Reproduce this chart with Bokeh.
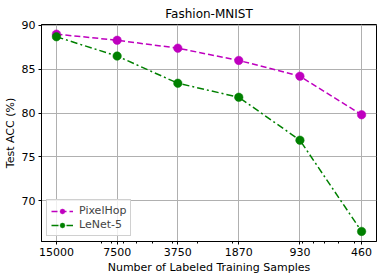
from bokeh.plotting import figure
from bokeh.models import FixedTicker, Range1d, Legend, LegendItem, CustomJSTickFormatter, Title
from bokeh.embed import file_html
from bokeh.resources import INLINE

samples = [15000, 7500, 3750, 1870, 930, 460]
pixelhop = [89.0, 88.3, 87.4, 86.0, 84.2, 79.8]
lenet5 = [88.7, 86.5, 83.4, 81.8, 76.9, 66.5]
y_ticks = [70, 75, 80, 85, 90]
minor_x = [500, 600, 700, 800, 900, 2000, 3000, 4000, 5000, 6000, 7000, 8000, 9000]

FONT = "DejaVu Sans"
MAG = "#bf00bf"
GRN = "#008000"

p = figure(width=386, height=278, output_backend="svg", toolbar_location=None,
           x_axis_type="log", x_range=Range1d(17790, 388), y_range=Range1d(65.35, 90.1),
           title="Fashion-MNIST", min_border_left=41, min_border_right=10,
           min_border_bottom=37, min_border_top=24)

p.title.align = "center"
p.title.text_font = FONT
p.title.text_font_style = "normal"
p.title.text_font_size = "12px"
p.title.text_color = "black"
p.title.standoff = 7

p.outline_line_color = "black"
p.outline_line_alpha = 1
p.outline_line_width = 1

p.xaxis.ticker = FixedTicker(ticks=samples, minor_ticks=minor_x)
p.xaxis.formatter = CustomJSTickFormatter(code="return tick.toFixed(0);")
p.yaxis.ticker = FixedTicker(ticks=y_ticks)

for ax in (p.xaxis[0], p.yaxis[0]):
    ax.major_label_text_font = FONT
    ax.major_label_text_font_size = "11px"
    ax.major_label_text_color = "black"
    ax.axis_label_text_font = FONT
    ax.axis_label_text_font_size = "11px"
    ax.axis_label_text_font_style = "normal"
    ax.axis_label_text_color = "black"
    ax.major_tick_out = 3
    ax.major_tick_in = 0
    ax.minor_tick_out = 2
    ax.minor_tick_in = 0
    ax.axis_line_color = "black"
    ax.major_tick_line_color = "black"
    ax.minor_tick_line_color = "black"
    ax.axis_label_standoff = 2
    ax.major_label_standoff = 3

p.yaxis.axis_label = "Test ACC (%)"
p.yaxis.minor_tick_line_color = None

xlabel = Title(text="Number of Labeled Training Samples", align="center",
               text_font=FONT, text_font_size="11px", text_font_style="normal",
               text_color="black", standoff=0, offset=0)
p.add_layout(xlabel, "below")

p.xgrid.grid_line_color = "#b0b0b0"
p.ygrid.grid_line_color = "#b0b0b0"
p.xgrid.grid_line_width = 1
p.ygrid.grid_line_width = 1

l1 = p.line(samples, pixelhop, line_color=MAG, line_dash="6 3", line_width=1.5)
s1 = p.scatter(samples, pixelhop, size=8.5, fill_color=MAG, line_color=MAG, line_width=0.5)
l2 = p.line(samples, lenet5, line_color=GRN, line_dash="7 3 2 3", line_width=1.5)
s2 = p.scatter(samples, lenet5, size=8.5, fill_color=GRN, line_color=GRN, line_width=0.5)

legend = Legend(items=[LegendItem(label="PixelHop", renderers=[l1, s1]),
                       LegendItem(label="LeNet-5", renderers=[l2, s2])],
                location="bottom_left")
legend.label_text_font = FONT
legend.label_text_font_size = "11px"
legend.border_line_color = "#d0d0d0"
legend.border_line_alpha = 1
legend.background_fill_alpha = 0.8
legend.glyph_width = 22
legend.glyph_height = 12
legend.label_height = 12
legend.spacing = 1
legend.padding = 4
legend.margin = 5
legend.label_standoff = 6
p.add_layout(legend)

open("out.html", "w").write(file_html(p, INLINE))
